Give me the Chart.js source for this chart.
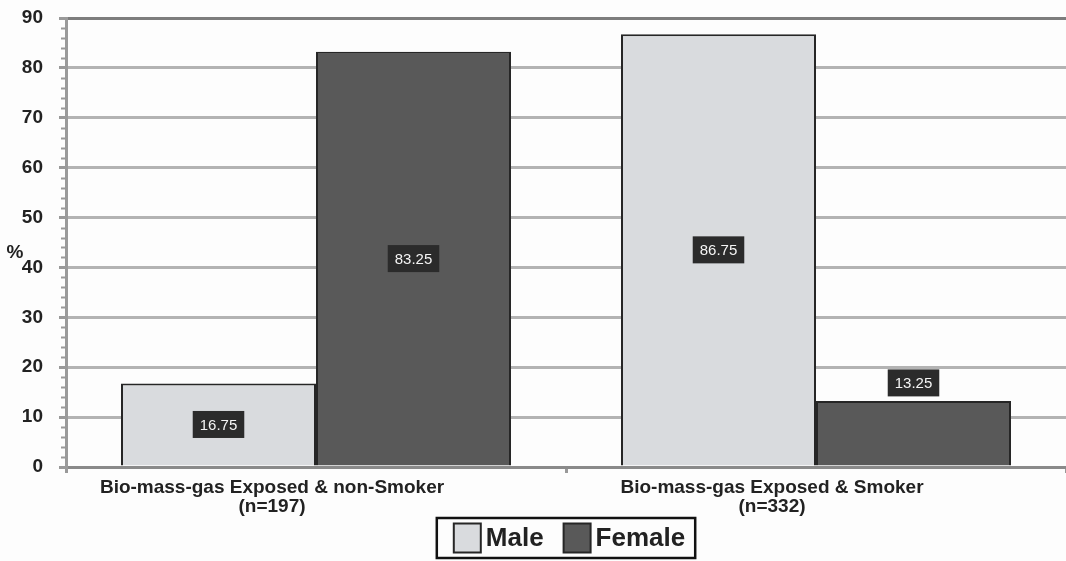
<!DOCTYPE html>
<html>
<head>
<meta charset="utf-8">
<script src="https://cdn.jsdelivr.net/npm/chart.js@4/dist/chart.umd.min.js"></script>
<style>
  html, body { margin: 0; padding: 0; background: #fdfdfd; }
  #wrap { width: 1066px; height: 561px; }
</style>
</head>
<body>
<div id="wrap"><canvas id="chart"></canvas></div>
<script>
const categories = ['Bio-mass-gas Exposed & non-Smoker', 'Bio-mass-gas Exposed & Smoker'];
const sampleSizes = [197, 332];
const male = [16.75, 86.75];
const female = [83.25, 13.25];
const yTicks = [0, 10, 20, 30, 40, 50, 60, 70, 80, 90];

const FONT = "'Liberation Sans', Arial, sans-serif";
const INK = '#222';

// value tags: dark box, white text, centred in the bar (short bars get it on top)
const valueTags = {
  id: 'valueTags',
  afterDatasetsDraw(chart) {
    const ctx = chart.ctx;
    ctx.save();
    ctx.font = '15px ' + FONT;
    ctx.textAlign = 'center';
    ctx.textBaseline = 'middle';
    chart.data.datasets.forEach((ds, i) => {
      chart.getDatasetMeta(i).data.forEach((bar, j) => {
        const v = ds.data[j];
        const txt = v.toFixed(2);
        const w = ctx.measureText(txt).width + 14;
        const h = 27;
        const cy = v < 15 ? bar.y - 18 : (bar.y + bar.base) / 2;
        ctx.fillStyle = '#2b2b2b';
        ctx.fillRect(bar.x - w / 2, cy - h / 2, w, h);
        ctx.fillStyle = '#f4f4f4';
        ctx.fillText(txt, bar.x, cy + 1);
      });
    });
    ctx.restore();
  }
};

// minor ticks on the value axis, the "%" mark and the boxed legend
const extras = {
  id: 'extras',
  afterDraw(chart) {
    const ctx = chart.ctx;
    const y = chart.scales.y;
    const area = chart.chartArea;
    ctx.save();
    ctx.strokeStyle = '#999';
    ctx.lineWidth = 2;
    for (let v = 2; v < 90; v += 2) {
      if (v % 10 === 0) continue;
      const py = Math.round(y.getPixelForValue(v)) + 0.5;
      ctx.beginPath();
      ctx.moveTo(area.left - 5, py);
      ctx.lineTo(area.left, py);
      ctx.stroke();
    }

    ctx.fillStyle = INK;
    ctx.font = 'bold 19px ' + FONT;
    ctx.textAlign = 'center';
    ctx.textBaseline = 'middle';
    ctx.fillText('%', y.left + 15, y.getPixelForValue(43));

    // legend
    ctx.font = 'bold 26px ' + FONT;
    ctx.textAlign = 'left';
    const items = chart.data.datasets.map(ds => ({
      label: ds.label, fill: ds.backgroundColor, stroke: ds.borderColor,
      w: ctx.measureText(ds.label).width
    }));
    const sw = 27, sh = 29, gap = 5, between = 20, padL = 17, padR = 10;
    let total = padL + padR;
    items.forEach((it, k) => { total += sw + gap + it.w + (k ? between : 0); });
    const boxH = 40;
    const boxTop = 518;
    let x = (area.left + area.right) / 2 - total / 2;
    ctx.strokeStyle = '#111';
    ctx.lineWidth = 2.5;
    ctx.fillStyle = '#fdfdfd';
    ctx.fillRect(x, boxTop, total, boxH);
    ctx.strokeRect(x, boxTop, total, boxH);
    let cx = x + padL;
    const mid = boxTop + boxH / 2;
    items.forEach((it, k) => {
      if (k) cx += between;
      ctx.fillStyle = it.fill;
      ctx.fillRect(cx, mid - sh / 2, sw, sh);
      ctx.strokeStyle = it.stroke;
      ctx.lineWidth = 2;
      ctx.strokeRect(cx, mid - sh / 2, sw, sh);
      cx += sw + gap;
      ctx.fillStyle = INK;
      ctx.fillText(it.label, cx, mid + 1);
      cx += it.w;
    });
    ctx.restore();
  }
};

const ctx = document.getElementById('chart').getContext('2d');
new Chart(ctx, {
  type: 'bar',
  data: {
    labels: categories.map((c, i) => [c, '(n=' + sampleSizes[i] + ')']),
    datasets: [
      { label: 'Male', data: male, backgroundColor: '#d9dbde', borderColor: '#262626', borderWidth: 2 },
      { label: 'Female', data: female, backgroundColor: '#595959', borderColor: '#262626', borderWidth: 2 }
    ]
  },
  options: {
    responsive: true,
    maintainAspectRatio: false,
    animation: false,
    layout: { padding: { top: 18, right: 0, bottom: 0, left: 0 } },
    datasets: { bar: { barPercentage: 1, categoryPercentage: 0.78 } },
    plugins: {
      legend: { display: false },
      tooltip: { enabled: false }
    },
    scales: {
      x: {
        afterFit(scale) { scale.height = 94; },
        grid: {
          drawOnChartArea: false,
          drawTicks: true,
          tickLength: 6,
          color: '#999',
          lineWidth: 3
        },
        border: { color: '#8a8a8a', width: 3 },
        ticks: {
          color: INK,
          font: { family: FONT, size: 19, weight: 'bold', lineHeight: 1.0 },
          padding: 5,
          labelOffset: -44,
          maxRotation: 0,
          autoSkip: false
        }
      },
      y: {
        min: 0,
        max: 90,
        afterFit(scale) {
          scale.width = 66;
          scale.paddingTop = 0;
          scale.paddingBottom = 0;
        },
        afterBuildTicks(scale) { scale.ticks = yTicks.map(v => ({ value: v })); },
        grid: {
          color: c => (c.tick && c.tick.value === 90 ? '#7d7d7d' : '#b3b3b3'),
          lineWidth: 3,
          tickLength: 7,
          tickColor: '#999'
        },
        border: { color: '#9a9a9a', width: 3 },
        ticks: {
          color: INK,
          font: { family: FONT, size: 19, weight: 'bold' },
          padding: 16
        }
      }
    }
  },
  plugins: [valueTags, extras]
});
</script>
</body>
</html>
